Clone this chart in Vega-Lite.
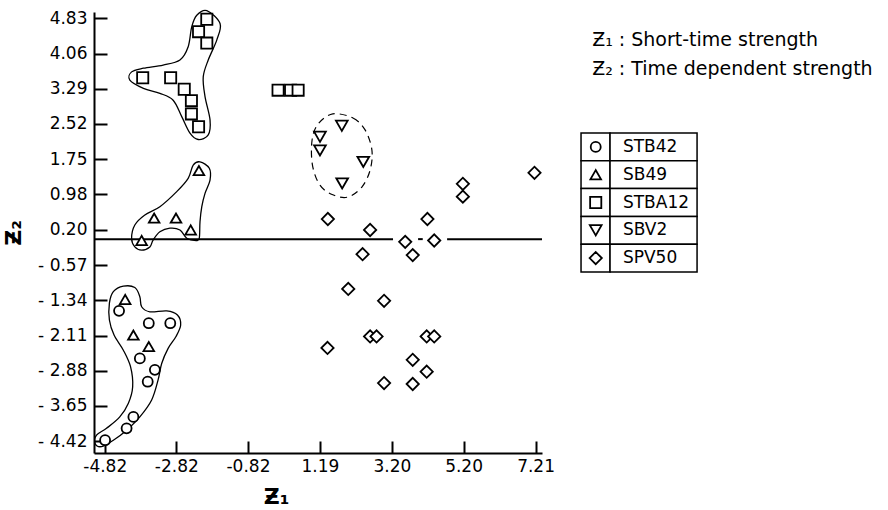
{
  "$schema": "https://vega.github.io/schema/vega-lite/v6.json",
  "width": 448,
  "height": 441,
  "autosize": {"type": "none"},
  "padding": {"left": 94, "top": 12, "right": 346, "bottom": 57},
  "background": "white",
  "config": {
    "view": {"stroke": null},
    "font": "DejaVu Sans",
    "axis": {
      "domainColor": "black", "domainWidth": 2,
      "tickColor": "black", "tickWidth": 2,
      "labelColor": "black", "labelFont": "DejaVu Sans", "labelFontSize": 17,
      "titleColor": "black", "titleFont": "DejaVu Sans", "titleFontSize": 22, "titleFontWeight": "bold",
      "grid": false, "labelFlush": false, "labelOverlap": false
    }
  },
  "datasets": {
    "points": [
      {"series": "STBA12", "z1": -1.97, "z2": 4.81},
      {"series": "STBA12", "z1": -2.20, "z2": 4.54},
      {"series": "STBA12", "z1": -1.97, "z2": 4.29},
      {"series": "STBA12", "z1": -3.76, "z2": 3.53},
      {"series": "STBA12", "z1": -2.98, "z2": 3.53},
      {"series": "STBA12", "z1": -2.60, "z2": 3.28},
      {"series": "STBA12", "z1": -2.40, "z2": 3.03},
      {"series": "STBA12", "z1": -2.40, "z2": 2.74},
      {"series": "STBA12", "z1": -2.20, "z2": 2.46},
      {"series": "STBA12", "z1": 0.02, "z2": 3.26},
      {"series": "STBA12", "z1": 0.37, "z2": 3.26},
      {"series": "STBA12", "z1": 0.58, "z2": 3.26},
      {"series": "SB49", "z1": -2.19, "z2": 1.50},
      {"series": "SB49", "z1": -3.44, "z2": 0.46},
      {"series": "SB49", "z1": -2.83, "z2": 0.46},
      {"series": "SB49", "z1": -2.42, "z2": 0.20},
      {"series": "SB49", "z1": -3.79, "z2": -0.03},
      {"series": "SB49", "z1": -4.25, "z2": -1.32},
      {"series": "SB49", "z1": -4.02, "z2": -2.10},
      {"series": "SB49", "z1": -3.59, "z2": -2.35},
      {"series": "STB42", "z1": -4.42, "z2": -1.57},
      {"series": "STB42", "z1": -3.59, "z2": -1.84},
      {"series": "STB42", "z1": -2.99, "z2": -1.84},
      {"series": "STB42", "z1": -3.84, "z2": -2.61},
      {"series": "STB42", "z1": -3.42, "z2": -2.86},
      {"series": "STB42", "z1": -3.62, "z2": -3.12},
      {"series": "STB42", "z1": -4.02, "z2": -3.89},
      {"series": "STB42", "z1": -4.21, "z2": -4.14},
      {"series": "STB42", "z1": -4.81, "z2": -4.40},
      {"series": "SBV2", "z1": 1.80, "z2": 2.48},
      {"series": "SBV2", "z1": 1.19, "z2": 2.24},
      {"series": "SBV2", "z1": 1.19, "z2": 1.94},
      {"series": "SBV2", "z1": 2.40, "z2": 1.69},
      {"series": "SBV2", "z1": 1.81, "z2": 1.22},
      {"series": "SPV50", "z1": 7.18, "z2": 1.45},
      {"series": "SPV50", "z1": 5.18, "z2": 1.21},
      {"series": "SPV50", "z1": 5.18, "z2": 0.93},
      {"series": "SPV50", "z1": 1.41, "z2": 0.44},
      {"series": "SPV50", "z1": 2.59, "z2": 0.20},
      {"series": "SPV50", "z1": 4.19, "z2": 0.44},
      {"series": "SPV50", "z1": 3.57, "z2": -0.06},
      {"series": "SPV50", "z1": 4.38, "z2": -0.03},
      {"series": "SPV50", "z1": 3.78, "z2": -0.35},
      {"series": "SPV50", "z1": 2.38, "z2": -0.33},
      {"series": "SPV50", "z1": 1.98, "z2": -1.09},
      {"series": "SPV50", "z1": 2.98, "z2": -1.35},
      {"series": "SPV50", "z1": 2.59, "z2": -2.13},
      {"series": "SPV50", "z1": 2.77, "z2": -2.13},
      {"series": "SPV50", "z1": 4.17, "z2": -2.13},
      {"series": "SPV50", "z1": 4.38, "z2": -2.13},
      {"series": "SPV50", "z1": 1.40, "z2": -2.38},
      {"series": "SPV50", "z1": 3.78, "z2": -2.64},
      {"series": "SPV50", "z1": 4.17, "z2": -2.90},
      {"series": "SPV50", "z1": 2.98, "z2": -3.15},
      {"series": "SPV50", "z1": 3.78, "z2": -3.17}
    ],
    "hulls": [
      {"hull": "sq", "z1": -1.97, "z2": 5.00},
      {"hull": "sq", "z1": -1.60, "z2": 4.72},
      {"hull": "sq", "z1": -1.69, "z2": 4.36},
      {"hull": "sq", "z1": -1.93, "z2": 3.92},
      {"hull": "sq", "z1": -2.07, "z2": 3.55},
      {"hull": "sq", "z1": -2.02, "z2": 3.12},
      {"hull": "sq", "z1": -1.88, "z2": 2.61},
      {"hull": "sq", "z1": -1.93, "z2": 2.28},
      {"hull": "sq", "z1": -2.21, "z2": 2.18},
      {"hull": "sq", "z1": -2.44, "z2": 2.32},
      {"hull": "sq", "z1": -2.67, "z2": 2.68},
      {"hull": "sq", "z1": -2.91, "z2": 3.04},
      {"hull": "sq", "z1": -3.28, "z2": 3.19},
      {"hull": "sq", "z1": -3.74, "z2": 3.30},
      {"hull": "sq", "z1": -4.12, "z2": 3.48},
      {"hull": "sq", "z1": -4.07, "z2": 3.66},
      {"hull": "sq", "z1": -3.74, "z2": 3.74},
      {"hull": "sq", "z1": -3.19, "z2": 3.81},
      {"hull": "sq", "z1": -2.72, "z2": 3.92},
      {"hull": "sq", "z1": -2.49, "z2": 4.21},
      {"hull": "sq", "z1": -2.39, "z2": 4.65},
      {"hull": "sq", "z1": -2.25, "z2": 4.90},
      {"hull": "tri", "z1": -2.16, "z2": 1.69},
      {"hull": "tri", "z1": -1.90, "z2": 1.55},
      {"hull": "tri", "z1": -1.88, "z2": 1.29},
      {"hull": "tri", "z1": -2.02, "z2": 1.00},
      {"hull": "tri", "z1": -2.11, "z2": 0.71},
      {"hull": "tri", "z1": -2.16, "z2": 0.38},
      {"hull": "tri", "z1": -2.18, "z2": 0.02},
      {"hull": "tri", "z1": -2.27, "z2": -0.03},
      {"hull": "tri", "z1": -2.53, "z2": 0.02},
      {"hull": "tri", "z1": -2.72, "z2": 0.20},
      {"hull": "tri", "z1": -3.00, "z2": 0.24},
      {"hull": "tri", "z1": -3.28, "z2": 0.16},
      {"hull": "tri", "z1": -3.47, "z2": -0.02},
      {"hull": "tri", "z1": -3.56, "z2": -0.17},
      {"hull": "tri", "z1": -3.79, "z2": -0.24},
      {"hull": "tri", "z1": -3.98, "z2": -0.17},
      {"hull": "tri", "z1": -4.07, "z2": 0.02},
      {"hull": "tri", "z1": -3.98, "z2": 0.31},
      {"hull": "tri", "z1": -3.70, "z2": 0.53},
      {"hull": "tri", "z1": -3.28, "z2": 0.71},
      {"hull": "tri", "z1": -2.81, "z2": 1.04},
      {"hull": "tri", "z1": -2.49, "z2": 1.33},
      {"hull": "tri", "z1": -2.35, "z2": 1.62},
      {"hull": "low", "z1": -4.58, "z2": -1.15},
      {"hull": "low", "z1": -4.30, "z2": -1.03},
      {"hull": "low", "z1": -3.98, "z2": -1.06},
      {"hull": "low", "z1": -3.84, "z2": -1.26},
      {"hull": "low", "z1": -3.79, "z2": -1.48},
      {"hull": "low", "z1": -3.56, "z2": -1.59},
      {"hull": "low", "z1": -3.09, "z2": -1.57},
      {"hull": "low", "z1": -2.79, "z2": -1.66},
      {"hull": "low", "z1": -2.70, "z2": -1.88},
      {"hull": "low", "z1": -2.83, "z2": -2.13},
      {"hull": "low", "z1": -3.05, "z2": -2.39},
      {"hull": "low", "z1": -3.23, "z2": -2.72},
      {"hull": "low", "z1": -3.33, "z2": -3.08},
      {"hull": "low", "z1": -3.51, "z2": -3.52},
      {"hull": "low", "z1": -3.84, "z2": -3.89},
      {"hull": "low", "z1": -4.21, "z2": -4.18},
      {"hull": "low", "z1": -4.58, "z2": -4.40},
      {"hull": "low", "z1": -4.91, "z2": -4.54},
      {"hull": "low", "z1": -5.09, "z2": -4.47},
      {"hull": "low", "z1": -5.05, "z2": -4.29},
      {"hull": "low", "z1": -4.77, "z2": -4.14},
      {"hull": "low", "z1": -4.40, "z2": -3.89},
      {"hull": "low", "z1": -4.16, "z2": -3.59},
      {"hull": "low", "z1": -4.04, "z2": -3.23},
      {"hull": "low", "z1": -4.10, "z2": -2.79},
      {"hull": "low", "z1": -4.30, "z2": -2.43},
      {"hull": "low", "z1": -4.56, "z2": -2.10},
      {"hull": "low", "z1": -4.69, "z2": -1.77},
      {"hull": "low", "z1": -4.69, "z2": -1.40}
    ],
    "ring": [
      {"z1": 1.55, "z2": 2.74},
      {"z1": 2.11, "z2": 2.65},
      {"z1": 2.45, "z2": 2.39},
      {"z1": 2.64, "z2": 1.95},
      {"z1": 2.59, "z2": 1.51},
      {"z1": 2.36, "z2": 1.14},
      {"z1": 1.97, "z2": 0.92},
      {"z1": 1.55, "z2": 0.97},
      {"z1": 1.19, "z2": 1.18},
      {"z1": 0.98, "z2": 1.62},
      {"z1": 0.97, "z2": 2.17},
      {"z1": 1.14, "z2": 2.52}
    ],
    "zeroline": [
      {"a": -5.12, "b": 3.23},
      {"a": 3.93, "b": 4.06},
      {"a": 4.74, "b": 7.39}
    ],
    "series": [
      {"series": "STB42"},
      {"series": "SB49"},
      {"series": "STBA12"},
      {"series": "SBV2"},
      {"series": "SPV50"}
    ],
    "notes": [
      {"note": "Ƶ₁ : Short-time strength"},
      {"note": "Ƶ₂ : Time dependent strength"}
    ]
  },
  "resolve": {"scale": {"y": "independent"}},
  "layer": [
    {
      "layer": [
        {
          "data": {"name": "hulls"},
          "mark": {"type": "line", "interpolate": "cardinal-closed", "color": "black", "strokeWidth": 1.3},
          "encoding": {
            "x": {"field": "z1", "type": "quantitative", "title": "Ƶ₁"},
            "y": {"field": "z2", "type": "quantitative", "title": "Ƶ₂"},
            "detail": {"field": "hull"},
            "order": {"value": null}
          }
        },
        {
          "data": {"name": "ring"},
          "mark": {"type": "line", "interpolate": "cardinal-closed", "color": "black", "strokeWidth": 1.2, "strokeDash": [7, 5]},
          "encoding": {
            "x": {"field": "z1", "type": "quantitative", "title": "Ƶ₁"},
            "y": {"field": "z2", "type": "quantitative", "title": "Ƶ₂"},
            "order": {"value": null}
          }
        },
        {
          "mark": {"type": "rule", "color": "black", "strokeWidth": 2},
          "encoding": {"x": {"datum": 0, "title": "Ƶ₁"}}
        },
        {
          "data": {"name": "zeroline"},
          "mark": {"type": "rule", "color": "black", "strokeWidth": 2},
          "encoding": {
            "x": {"field": "a", "type": "quantitative", "title": "Ƶ₁"},
            "x2": {"field": "b"},
            "y": {"datum": 0, "title": "Ƶ₂"}
          }
        },
        {
          "data": {"name": "points"},
          "mark": {"type": "point", "fill": "white", "stroke": "black", "strokeWidth": 1.8, "opacity": 1, "fillOpacity": 1},
          "encoding": {
            "x": {
              "field": "z1", "type": "quantitative", "title": "Ƶ₁",
              "scale": {"domain": [-5.12, 7.39], "nice": false, "zero": false},
              "axis": {
                "values": [-4.82, -2.82, -0.82, 1.19, 3.20, 5.20, 7.21],
                "labelExpr": "(datum.value < 0 ? '-' : '') + format(abs(datum.value), '.2f')",
                "tickSize": -12, "labelPadding": 17, "titleX": 182, "titlePadding": 12,
                "labelOverlap": false
              }
            },
            "y": {
              "field": "z2", "type": "quantitative", "title": "Ƶ₂",
              "scale": {"domain": [-4.68, 4.97], "nice": false, "zero": false},
              "axis": {
                "values": [4.83, 4.06, 3.29, 2.52, 1.75, 0.98, 0.20, -0.57, -1.34, -2.11, -2.88, -3.65, -4.42],
                "labelExpr": "(datum.value < 0 ? '- ' : '') + format(abs(datum.value), '.2f')",
                "tickSize": -13, "labelPadding": 20, "titlePadding": 12, "titleAngle": 270,
                "labelOverlap": false, "labelSeparation": 0, "labelBound": false, "tickCount": 13
              }
            },
            "shape": {
              "field": "series", "type": "nominal", "legend": null,
              "scale": {"domain": ["STB42", "SB49", "STBA12", "SBV2", "SPV50"], "range": ["circle", "triangle-up", "square", "triangle-down", "diamond"]}
            },
            "size": {
              "field": "series", "type": "ordinal", "legend": null,
              "scale": {"domain": ["STB42", "SB49", "STBA12", "SBV2", "SPV50"], "range": [100, 150, 85, 150, 70]}
            }
          }
        }
      ]
    },
    {
      "data": {"name": "series"},
      "layer": [
        {
          "mark": {"type": "rect", "fill": "white", "stroke": "black", "strokeWidth": 1.5},
          "encoding": {
            "x": {"datum": 8.48, "title": "Ƶ₁"},
            "x2": {"datum": 9.29},
            "y": {
              "field": "series", "type": "nominal", "axis": null,
              "scale": {"type": "band", "domain": ["STB42", "SB49", "STBA12", "SBV2", "SPV50"], "range": [121, 260], "paddingInner": 0, "paddingOuter": 0}
            }
          }
        },
        {
          "mark": {"type": "rect", "fill": "white", "stroke": "black", "strokeWidth": 1.5},
          "encoding": {
            "x": {"datum": 9.29, "title": "Ƶ₁"},
            "x2": {"datum": 11.72},
            "y": {"field": "series", "type": "nominal", "axis": null}
          }
        },
        {
          "mark": {"type": "point", "fill": "white", "stroke": "black", "strokeWidth": 1.8, "opacity": 1, "fillOpacity": 1},
          "encoding": {
            "x": {"datum": 8.89, "title": "Ƶ₁"},
            "y": {"field": "series", "type": "nominal", "axis": null},
            "shape": {"field": "series", "type": "nominal", "legend": null},
            "size": {"field": "series", "type": "ordinal", "legend": null}
          }
        },
        {
          "mark": {"type": "text", "align": "left", "baseline": "middle", "fontSize": 17, "color": "black", "font": "DejaVu Sans"},
          "encoding": {
            "x": {"datum": 9.65, "title": "Ƶ₁"},
            "y": {"field": "series", "type": "nominal", "axis": null},
            "text": {"field": "series"}
          }
        }
      ]
    },
    {
      "data": {"name": "notes"},
      "mark": {"type": "text", "align": "left", "baseline": "middle", "fontSize": 19, "color": "black", "font": "DejaVu Sans"},
      "encoding": {
        "x": {"datum": 8.79, "title": "Ƶ₁"},
        "y": {
          "field": "note", "type": "nominal", "axis": null,
          "scale": {"type": "band", "domain": ["Ƶ₁ : Short-time strength", "Ƶ₂ : Time dependent strength"], "range": [13, 71], "paddingInner": 0, "paddingOuter": 0}
        },
        "text": {"field": "note"}
      }
    }
  ]
}
